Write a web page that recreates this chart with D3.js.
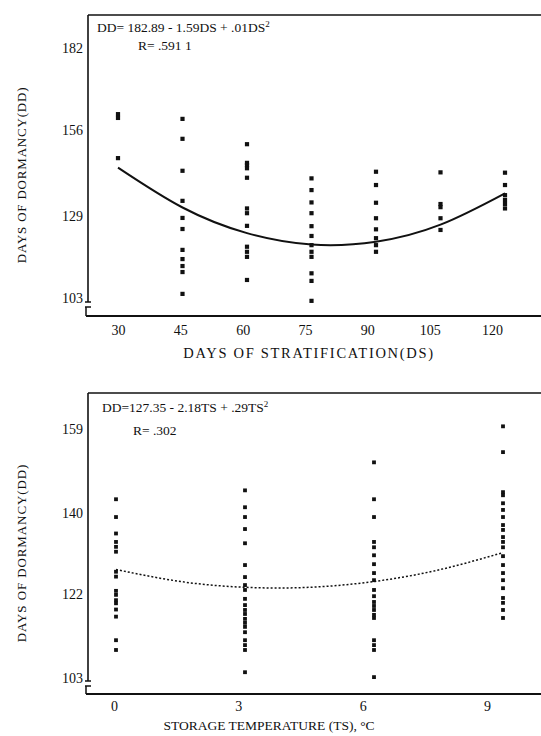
<!DOCTYPE html>
<html>
<head>
<meta charset="utf-8">
<script src="https://cdn.jsdelivr.net/npm/d3@7"></script>
<style>
  body { margin: 0; background: white; }
</style>
</head>
<body>
<script>

// DATI GRAFICO SUPERIORE (giorni di stratificazione)

var dsLevels = [30, 45, 60, 75, 90, 105, 120];
var dsDormancy = [
    [161.1, 159.9, 147.2],
    [159.6, 153.3, 143.2, 133.7, 128.3, 124.8, 118.2, 115.3, 113.1, 111.2, 104.3],
    [151.6, 145.7, 145.0, 144.0, 141.0, 131.3, 129.8, 125.8, 119.2, 117.6, 116.0, 108.7],
    [140.8, 137.1, 133.2, 129.8, 125.7, 122.6, 119.7, 117.6, 116.0, 110.8, 108.4, 102.1],
    [142.9, 138.7, 133.1, 128.2, 124.7, 121.9, 119.7, 117.6],
    [142.7, 132.7, 131.7, 128.2, 124.5],
    [142.6, 138.7, 135.5, 134.0, 132.7, 131.3]
];
var dsFit = [144.2, 131.6, 123.5, 119.9, 120.8, 126.2, 136.1];
var dsYTicks = [103, 129, 156, 182];

// DATI GRAFICO INFERIORE (temperatura di conservazione)

var tsLevels = [0, 3, 6, 9];
var tsDormancy = [
    [143.2, 139.2, 135.5, 133.6, 132.5, 131.4, 126.9, 125.8, 122.6, 121.7, 120.5, 119.8, 118.4, 116.8, 111.5, 109.3],
    [145.2, 141.4, 139.2, 136.5, 133.3, 128.4, 125.7, 123.9, 122.8, 120.8, 119.4, 118.3, 117.4, 116.3, 115.4, 114.5, 113.3, 111.5, 110.4, 109.3, 104.3],
    [151.5, 143.2, 139.2, 133.6, 132.4, 130.6, 128.6, 126.6, 125.0, 122.8, 121.4, 120.1, 119.2, 118.3, 117.2, 116.5, 111.5, 110.4, 109.3, 103.2],
    [159.6, 153.8, 144.8, 144.1, 142.3, 140.8, 139.2, 137.4, 136.3, 134.7, 133.6, 132.4, 130.4, 128.4, 126.6, 125.0, 123.2, 121.0, 119.9, 118.3, 116.5]
];
var tsFitX = [0, 1.5, 3, 4.5, 6, 7.5, 9];
var tsFit = [127.4, 124.7, 123.4, 123.4, 124.7, 127.3, 131.2];
var tsYTicks = [103, 122, 140, 159];

var FONT = "'Liberation Serif', 'Times New Roman', 'DejaVu Serif', serif";


// INIZIALIZZA L'SVG

var svg = d3.select("body")
    .append("svg")
    .attr("width", 541)
    .attr("height", 736)
    .attr("font-family", FONT);


function drawPanel(cfg) {

    var g = svg.append("g");

    var x = d3.scaleLinear().domain(cfg.xDomain).range(cfg.xRange);
    // le etichette dell'asse x nell'originale sono un po' spostate rispetto ai punti
    var xLabel = d3.scaleLinear().domain(cfg.xDomain).range(cfg.xLabelRange);
    var y = d3.scaleLinear().domain(cfg.yDomain).range(cfg.yRange);

    // CORNICE E ASSI

    g.append("line")
        .attr("x1", cfg.left).attr("x2", 541)
        .attr("y1", cfg.top).attr("y2", cfg.top)
        .attr("stroke", "#111").attr("stroke-width", 1.6);

    g.append("line")
        .attr("x1", cfg.left).attr("x2", cfg.left)
        .attr("y1", cfg.top).attr("y2", cfg.breakY)
        .attr("stroke", "#111").attr("stroke-width", 1.6);

    // simbolo di interruzione dell'asse
    g.append("path")
        .attr("d", "M" + (cfg.left - 3) + "," + cfg.breakY + "H" + (cfg.left + 3) +
                   "M" + (cfg.left - 3) + "," + (cfg.breakY + 5) + "H" + (cfg.left + 3) +
                   "M" + (cfg.left - 2) + "," + (cfg.breakY + 5) + "V" + cfg.bottom)
        .attr("fill", "none")
        .attr("stroke", "#111").attr("stroke-width", 1.5);

    g.append("line")
        .attr("x1", cfg.left - 2).attr("x2", 541)
        .attr("y1", cfg.bottom).attr("y2", cfg.bottom)
        .attr("stroke", "#111").attr("stroke-width", 2.2);

    // ETICHETTE ASSE Y

    var yAxis = d3.axisLeft(y).tickValues(cfg.yTicks).tickSize(0).tickPadding(5);
    var ya = g.append("g")
        .attr("transform", "translate(" + (cfg.left) + ",0)")
        .call(yAxis)
        .attr("font-family", FONT)
        .attr("font-size", 14);
    ya.select(".domain").remove();
    ya.selectAll("text").attr("fill", "#111");

    // ETICHETTE ASSE X

    var xAxis = d3.axisBottom(xLabel).tickValues(cfg.xLevels).tickSize(0).tickPadding(cfg.xTickPad);
    var xa = g.append("g")
        .attr("transform", "translate(0," + cfg.bottom + ")")
        .call(xAxis)
        .attr("font-family", FONT)
        .attr("font-size", 14);
    xa.select(".domain").remove();
    xa.selectAll("text").attr("fill", "#111");

    // TITOLI ASSI

    g.append("text")
        .attr("transform", "translate(" + 26 + "," + cfg.yTitleY + ") rotate(-90)")
        .attr("text-anchor", "middle")
        .attr("font-size", "13px")
        .attr("letter-spacing", cfg.yTitleSpacing)
        .attr("fill", "#111")
        .text("DAYS OF DORMANCY(DD)");

    g.append("text")
        .attr("x", cfg.xTitleX)
        .attr("y", cfg.xTitleY)
        .attr("text-anchor", "middle")
        .attr("font-size", cfg.xTitleSize)
        .attr("letter-spacing", cfg.xTitleSpacing)
        .attr("fill", "#111")
        .text(cfg.xTitle);

    // EQUAZIONE E R

    var eq = g.append("text")
        .attr("x", cfg.eqX)
        .attr("y", cfg.eqY)
        .attr("font-size", "13.5px")
        .attr("fill", "#111")
        .text(cfg.eqText);
    eq.append("tspan")
        .attr("dy", -5)
        .attr("font-size", "9px")
        .text("2");

    g.append("text")
        .attr("x", cfg.rX)
        .attr("y", cfg.rY)
        .attr("font-size", "13.5px")
        .attr("fill", "#111")
        .text(cfg.rText);

    // CURVA DI REGRESSIONE

    var line = d3.line()
        .x(function(d) { return x(d[0]); })
        .y(function(d) { return y(d[1]); })
        .curve(d3.curveNatural);

    g.append("path")
        .datum(cfg.fitX.map(function(v, i) { return [v, cfg.fit[i]]; }))
        .attr("d", line)
        .attr("fill", "none")
        .attr("stroke", "#111")
        .attr("stroke-width", cfg.fitWidth)
        .attr("stroke-dasharray", cfg.fitDash);

    // PUNTI

    var pts = [];
    cfg.xLevels.forEach(function(lv, i) {
        cfg.values[i].forEach(function(v) { pts.push([lv, v]); });
    });

    g.selectAll("rect.pt")
        .data(pts)
        .enter()
        .append("rect")
        .attr("class", "pt")
        .attr("x", function(d) { return x(d[0]) - cfg.dot / 2; })
        .attr("y", function(d) { return y(d[1]) - cfg.dot / 2; })
        .attr("width", cfg.dot)
        .attr("height", cfg.dot)
        .attr("fill", "#111");
}


// GRAFICO SUPERIORE

drawPanel({
    xLevels: dsLevels, values: dsDormancy, yTicks: dsYTicks,
    fitX: dsLevels, fit: dsFit, fitWidth: 2, fitDash: null,
    xDomain: [30, 120], xRange: [118, 505], xLabelRange: [118, 492],
    yDomain: [103, 182], yRange: [298, 48],
    left: 88, top: 15, breakY: 302, bottom: 316,
    xTickPad: 9, dot: 4.2,
    yTitleY: 175, yTitleSpacing: "0.8px",
    xTitle: "DAYS OF STRATIFICATION(DS)", xTitleX: 309, xTitleY: 358,
    xTitleSize: "14.5px", xTitleSpacing: "1.7px",
    eqText: "DD= 182.89 - 1.59DS + .01DS", eqX: 97, eqY: 32,
    rText: "R= .591 1", rX: 138, rY: 50
});

// GRAFICO INFERIORE

drawPanel({
    xLevels: tsLevels, values: tsDormancy, yTicks: tsYTicks,
    fitX: tsFitX, fit: tsFit, fitWidth: 1.5, fitDash: "2,2",
    xDomain: [0, 9], xRange: [116, 503], xLabelRange: [114, 487],
    yDomain: [103, 159], yRange: [678, 429],
    left: 88, top: 393, breakY: 681, bottom: 694,
    xTickPad: 7, dot: 3.8,
    yTitleY: 553, yTitleSpacing: "0.9px",
    xTitle: "STORAGE TEMPERATURE (TS), \u00B0C", xTitleX: 269, xTitleY: 730,
    xTitleSize: "13.5px", xTitleSpacing: "0px",
    eqText: "DD=127.35 - 2.18TS + .29TS", eqX: 102, eqY: 412,
    rText: "R= .302", rX: 133, rY: 435
});

</script>
</body>
</html>
